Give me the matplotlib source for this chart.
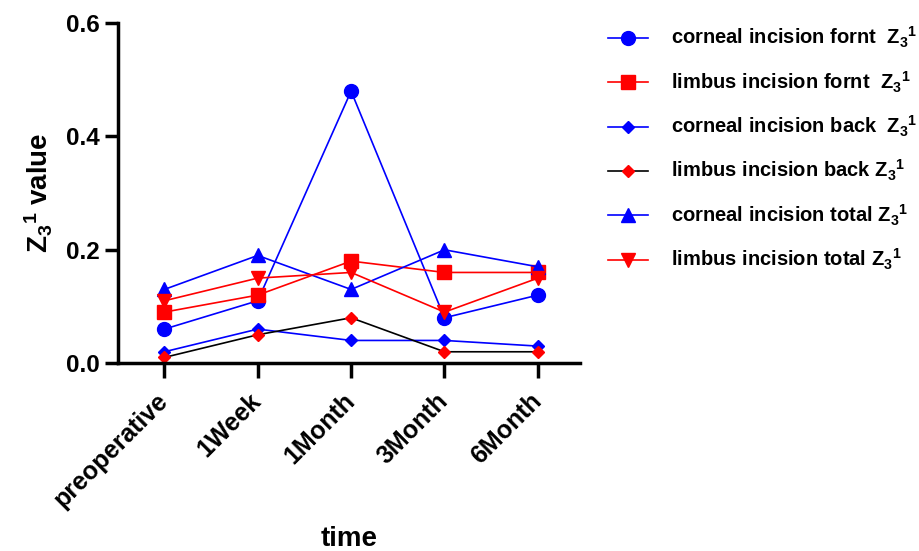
import matplotlib
matplotlib.use("Agg")
import matplotlib.pyplot as plt

plt.rcParams['font.family'] = ['Liberation Sans', 'DejaVu Sans']
plt.rcParams['font.weight'] = 'bold'
plt.rcParams['mathtext.fontset'] = 'custom'
plt.rcParams['mathtext.rm'] = 'Liberation Sans:bold'
plt.rcParams['mathtext.bf'] = 'Liberation Sans:bold'
plt.rcParams['mathtext.it'] = 'Liberation Sans:bold'

times = ["preoperative", "1Week", "1Month", "3Month", "6Month"]

corneal_front = [0.06, 0.11, 0.48, 0.08, 0.12]
limbus_front = [0.09, 0.12, 0.18, 0.16, 0.16]
corneal_back = [0.02, 0.06, 0.04, 0.04, 0.03]
limbus_back = [0.01, 0.05, 0.08, 0.02, 0.02]
corneal_total = [0.13, 0.19, 0.13, 0.20, 0.17]
limbus_total = [0.11, 0.15, 0.16, 0.09, 0.15]

z = r"$\mathrm{Z_3{}^1}$"
series = [
    (corneal_front, "o", "blue", "blue", "corneal incision fornt  " + z, 10),
    (limbus_front, "s", "red", "red", "limbus incision fornt  " + z, 9.5),
    (corneal_back, "D", "blue", "blue", "corneal incision back  " + z, 6.5),
    (limbus_back, "D", "black", "red", "limbus incision back " + z, 6.5),
    (corneal_total, "^", "blue", "blue", "corneal incision total " + z, 10),
    (limbus_total, "v", "red", "red", "limbus incision total " + z, 10),
]

fig = plt.figure(figsize=(9.19, 5.51), dpi=100)
ax = fig.add_axes([0.128, 0.341, 0.503, 0.617])

x = list(range(len(times)))
for vals, m, lc, mc, lab, ms in series:
    ax.plot(x, vals, color=lc, marker=m, markerfacecolor=mc, markeredgecolor=mc,
            markersize=ms, linewidth=1.2, label=lab)

ax.set_xlim(-0.5, 4.45)
ax.set_ylim(0, 0.6)
ax.set_yticks([0.0, 0.2, 0.4, 0.6])
ax.set_yticklabels(["0.0", "0.2", "0.4", "0.6"])
ax.set_xticks(x)
ax.set_xticklabels(times, rotation=45, ha="right", va="center", rotation_mode="anchor")

for s in ["top", "right"]:
    ax.spines[s].set_visible(False)
for s in ["left", "bottom"]:
    ax.spines[s].set_linewidth(2.5)
ax.tick_params(width=2.5)
ax.tick_params(axis="y", labelsize=17.5, length=9.5, pad=3.5)
ax.tick_params(axis="x", labelsize=18, length=10.5, pad=14)
for t in ax.get_xticklabels() + ax.get_yticklabels():
    t.set_fontweight("bold")

ax.set_xlabel("time", fontsize=20, fontweight="bold", labelpad=10)
ax.set_ylabel(r"$\mathrm{Z_3{}^1}$ value", fontsize=20, fontweight="bold", labelpad=8)

leg = fig.legend(loc="upper left", bbox_to_anchor=(0.642, 0.987), frameon=False,
                 fontsize=14.5, labelspacing=0.95, handlelength=2.0,
                 handletextpad=1.1)
for t in leg.get_texts():
    t.set_fontweight("bold")

fig.savefig("out.png", dpi=100)
